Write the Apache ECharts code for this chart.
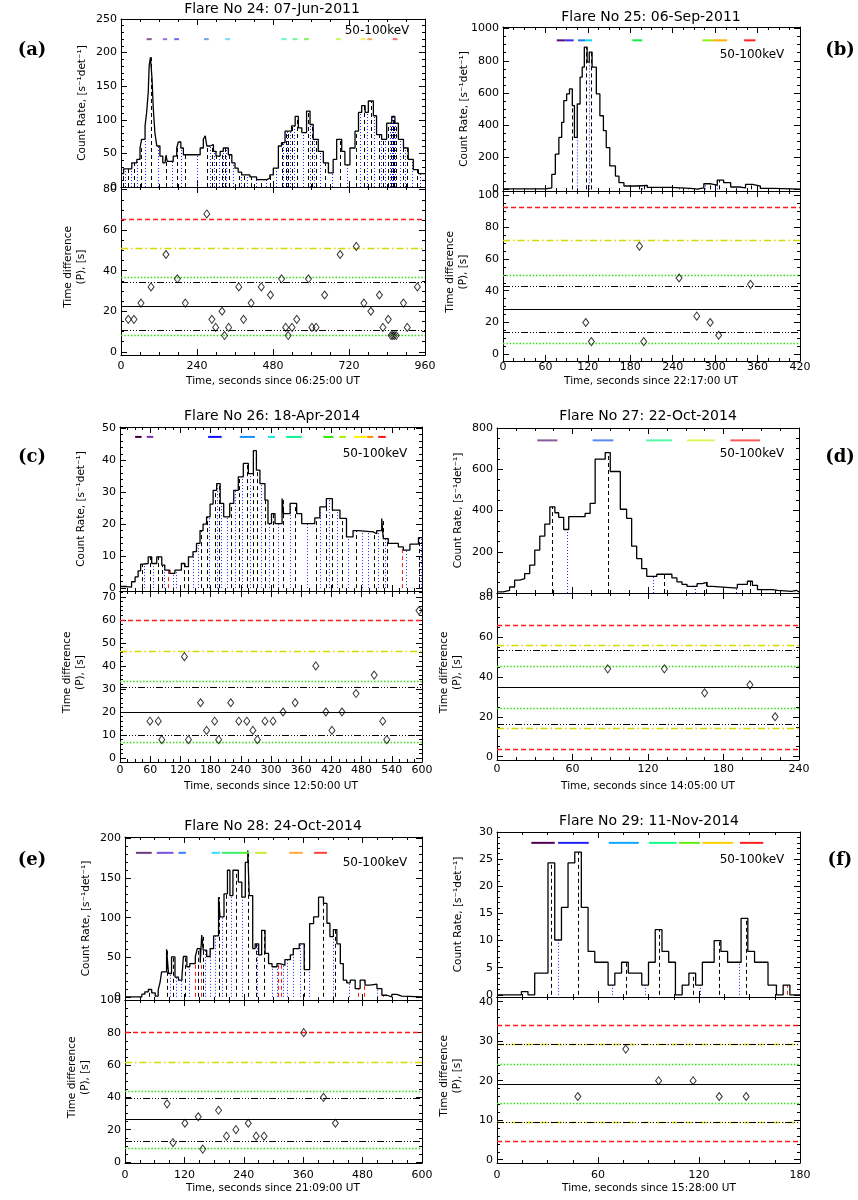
<!DOCTYPE html>
<html><head><meta charset="utf-8">
<script src="https://cdn.jsdelivr.net/npm/echarts@6/dist/echarts.min.js"></script>
<style>html,body{margin:0;padding:0;background:#fff}#c{width:858px;height:1200px}</style>
</head><body><div id="c"></div>
<script>
// ================= DATA =================
// ---- Flare 24 ----
const f24Title = 'Flare No 24: 07-Jun-2011';
const f24XTitle = 'Time, seconds since 06:25:00 UT';
const f24Edges = [0,8,34,50,60,65,76,81,86,89,93,98,102,107,113,123,132,139,142,146,165,176,181,189,197,250,260,266,271,281,292,300,313,323,339,350,360,370,381,407,428,460,470,481,497,507,518,539,550,560,571,586,597,607,623,639,655,670,681,697,707,723,739,750,760,771,781,797,807,823,839,855,865,876,892,907,923,939,960];
const f24Rates = [20,27,36,41,58,71,91,111,141,181,193,161,116,81,61,46,36,38,47,38,46,58,67,58,48,58,71,76,61,63,53,46,53,58,48,36,28,22,18,15,11,13,18,28,61,66,83,91,105,88,81,113,93,71,53,36,21,41,71,53,33,58,83,111,121,111,128,106,78,71,95,105,95,71,58,41,26,20];
const f24Peaks = [7,23,41,63,95,142,178,203,271,287,299,319,327,340,372,387,411,443,472,507,520,528,540,555,592,603,616,643,692,743,767,789,816,827,844,853,858,863,869,892,904,936];
const f24Troughs = [14,32,52,75,118,160,190,240,280,293,310,323,333,355,380,398,425,458,490,513,524,533,547,575,598,609,628,665,715,755,778,800,822,835,849,856,860,866,880,898,920,945];
const f24Reds = [];
const f24BarT0 = [81,132,168,262,329,507,542,578,679,757,778,858];
const f24BarT1 = [97,146,183,277,344,523,557,593,694,772,793,873];
const f24BarColors = ['#8a5a8e','#9a74d6','#6a6af8','#6aa2f8','#6adcf8','#6af8cc','#6af89a','#7cf85a','#c8f85a','#f8ec60','#f8aa5a','#f86a6a'];
const f24BarY = 220;
const f24DiffT = [23,41,63,95,142,178,203,271,287,299,319,327,340,372,387,411,443,472,507,520,528,540,555,592,603,616,643,692,743,767,789,816,827,844,853,858,863,869,892,904,936];
const f24DiffV = [16,16,24,32,48,36,24,68,16,12,20,8,12,32,16,24,32,28,36,12,8,12,16,36,12,12,28,48,52,24,20,28,12,16,8,8,8,8,24,12,32];
const f24Mean = 22.4, f24Sig1 = [8.1,36.7], f24Sig2 = [51], f24Sig3 = [65.3], f24Quart = [10.5,34.4];
const f24XTicks = [0,240,480,720,960];
const f24TopYTicks = [0,50,100,150,200,250];
const f24BotYTicks = [0,20,40,60,80];

// ---- Flare 25 ----
const f25Title = 'Flare No 25: 06-Sep-2011';
const f25XTitle = 'Time, seconds since 22:17:00 UT';
const f25Edges = [0,60,69,74,79,83,86,90,94,98,101,105,109,112,115,119,122,126,132,137,142,146,151,159,164,171,190,204,237,265,275,284,294,303,312,322,334,343,353,364,383,420];
const f25Rates = [3,10,94,219,323,417,552,594,625,521,323,531,698,760,885,792,854,760,594,458,365,260,146,83,42,21,25,12,6,2,10,35,27,58,42,15,10,31,21,6,2];
const f25Peaks = [97,117,125,193,199,249,274,293,305,350];
const f25Troughs = [105,121,196,262,285,302,330];
const f25Reds = [];
const f25BarT0 = [76,88,106,116,183,282,296,341];
const f25BarT1 = [88,100,116,126,197,296,317,357];
const f25BarColors = ['#5a0a7a','#3a2af0','#1a7af8','#10d8e8','#10f040','#90f010','#ffb000','#ff2020'];
const f25BarY = 927;
const f25DiffT = [117,125,193,199,249,274,293,305,350];
const f25DiffV = [20,8,68,8,48,24,20,12,44];
const f25Mean = 28.1, f25Sig1 = [7.1,49.7], f25Sig2 = [71.7], f25Sig3 = [92.7], f25Quart = [14,43];
const f25XTicks = [0,60,120,180,240,300,360,420];
const f25TopYTicks = [0,200,400,600,800,1000];
const f25BotYTicks = [0,20,40,60,80,100];

// ---- Flare 26 ----
const f26Title = 'Flare No 26: 18-Apr-2014';
const f26XTitle = 'Time, seconds since 12:50:00 UT';
const f26Edges = [0,13,23,30,36,41,46,56,63,73,83,89,99,109,122,129,136,145,152,159,165,172,179,185,192,199,206,218,226,235,245,255,265,271,278,288,294,301,308,322,325,338,351,361,387,397,410,422,437,450,463,473,503,510,520,523,533,553,563,576,593,600];
const f26Rates = [0.5,0.3,2,3.5,5.4,7.5,7.7,9.8,7.7,9.8,7.2,5.6,4.6,5.6,7.7,6.7,9.8,11.4,14,18,20,22.3,26.3,30.6,32.7,26.5,22.3,26.5,30.6,34.8,39,35.8,43,36.9,32.7,27.5,20.2,23.3,20.2,28,23.3,26.5,23.3,20.2,22,25.4,28,24.4,21.8,16,18,17.6,17,18,21.8,15.5,14,12.9,11.9,13.75,15.8];
const f26Peaks = [43,59.5,76,83,128,136,160,172,188,196,220,236,252,264,273,288,304,324,348,389,409,421,441,469,505,522,530,594];
const f26Troughs = [48,66,88,106,112,146,155,177,192,200,212,228,242,259,280,296,314,338,371,398,415,431,452,480,493,513,526,569,599];
const f26Reds = [96,560];
const f26BarT0 = [30,53,175,238,294,330,404,436,465,491,513];
const f26BarT1 = [43,66,202,268,308,361,424,449,490,503,528];
const f26BarColors = ['#3a003a','#7a30b0','#1010ff','#1090ff','#10e8e8','#10f090','#30e800','#a0f000','#ffee00','#ff9000','#ff1010'];
const f26BarY = 47.3;
const f26DiffT = [59.5,76,83,128,136,160,172,188,196,220,236,252,264,273,288,304,324,348,389,409,421,441,469,505,522,530,594];
const f26DiffV = [16,16,8,44,8,24,12,16,8,24,16,16,12,8,16,16,20,24,40,20,12,20,28,36,16,8,64];
const f26Mean = 20, f26Sig1 = [6.7,33.5], f26Sig2 = [46.5], f26Sig3 = [59.6], f26Quart = [9.8,30.6];
const f26XTicks = [0,60,120,180,240,300,360,420,480,540,600];
const f26TopYTicks = [0,10,20,30,40,50];
const f26BotYTicks = [0,10,20,30,40,50,60,70];

// ---- Flare 27 ----
const f27Title = 'Flare No 27: 22-Oct-2014';
const f27XTitle = 'Time, seconds since 14:05:00 UT';
const f27Edges = [0,5,10,14,18,22,26,30,34,38,42,46,49,53,57,70,74,78,86,90,98,103,107,111,115,119,127,139,143,147,151,159,163,167,171,191,199,203,207,219,223,234,238,240];
const f27Rates = [5,13,29,62,70,94,135,208,276,334,418,389,367,308,370,386,435,649,681,589,406,362,227,167,118,81,91,73,54,42,32,45,52,32,24,42,57,37,16,13,8,13,5];
const f27Peaks = [44,88,133,166,201,221];
const f27Troughs = [56,124,157,190];
const f27Reds = [];
const f27BarT0 = [32,76,118.5,151,185.5];
const f27BarT1 = [48,92.5,139,173,209];
const f27BarColors = ['#8a5a9a','#5a8af0','#5af8aa','#d8f85a','#f85a5a'];
const f27BarY = 740;
const f27DiffT = [88,133,165,201,221];
const f27DiffV = [44,44,32,36,20];
const f27Mean = 35, f27Sig1 = [24.3,45.3], f27Sig2 = [14.2,55.7], f27Sig3 = [3.7,65.8], f27Quart = [16.5,53.3];
const f27XTicks = [0,60,120,180,240];
const f27TopYTicks = [0,200,400,600,800];
const f27BotYTicks = [0,20,40,60,80];

// ---- Flare 28 ----
const f28Title = 'Flare No 28: 24-Oct-2014';
const f28XTitle = 'Time, seconds since 21:09:00 UT';
const f28Edges = [0,34,40,47,54,61,67,71,74,84,88,94,101,108,115,118,125,131,142,146,152,155,158,165,172,179,189,192,200,207,212,218,229,236,243,248,251,258,263,270,276,283,290,297,307,313,323,334,340,352,362,373,381,391,401,408,414,421,428,435,441,448,455,465,475,485,495,509,519,529,539,549,559,563,600];
const f28Rates = [0,3.4,6.3,9.3,5,1,8.4,19,31.6,60,29.5,50.5,25,21,25,51,38,42,50.5,61,43,78,59,51,61,77,126,101,130,160,128,160,145,126,170,185,128,61,67,53,84,55,42,38,42,40,47,53,61,67,34.5,92.6,101,126,118,93,76,85,67,42,21,17.7,21,10.5,21,14.7,16,10.5,2,0,3,1,3,0];
const f28Peaks = [49,85,97,121,148,157,189,205,224,249,265,281,361,401,425];
const f28Troughs = [91,104,113,130,162,172,182,196,214,237,266,297,307,319,327,339,354,371,420,452,509];
const f28Reds = [142,153,310,315,470,483,522];
const f28BarT0 = [22,64,108,175,195.5,232.5,263,332,382];
const f28BarT1 = [54,98,123,192,232.5,251,286,359,408];
const f28BarColors = ['#6a3a7a','#7a50e0','#3a80f8','#3ae0f8','#3aee70','#50ee30','#c8ee30','#ffaa40','#ff4040'];
const f28BarY = 182;
const f28DiffT = [85,97,121,148,157,189,205,224,249,265,281,361,401,425];
const f28DiffV = [36,12,24,28,8,32,16,20,24,16,16,80,40,24];
const f28Mean = 26.2, f28Sig1 = [8.4,44], f28Sig2 = [62], f28Sig3 = [80], f28Quart = [12.8,39.6];
const f28XTicks = [0,120,240,360,480,600];
const f28TopYTicks = [0,50,100,150,200];
const f28BotYTicks = [0,20,40,60,80,100];

// ---- Flare 29 ----
const f29Title = 'Flare No 29: 11-Nov-2014';
const f29XTitle = 'Time, seconds since 15:28:00 UT';
const f29Edges = [0,14.5,18.4,22.4,30.3,34.3,38.3,42.2,46.2,50.1,54.1,58.1,66,70,74,78,86,90,94,98,102,106,110,114,118,122,129,133,137,145,149,153,161,166,170,174,180];
const f29Rates = [0,0.6,0,4,24.3,10.1,16.1,24.3,26.3,16.1,8,6,1.8,4,6,4,1.8,6,12,8,6,0,1.8,4,1.8,6,10,8,6,14.1,8,6,1.8,0,1.8,0];
const f29Peaks = [32,48,76.5,96,116.5,132,148];
const f29Troughs = [36,68.5,88,120.5,144];
const f29Reds = [172];
const f29BarT0 = [20.4,36.3,66.4,90.2,108.2,122,144.3];
const f29BarT1 = [34.3,54.5,84.2,106.6,120.5,140.3,158.2];
const f29BarColors = ['#500050','#2020ff','#10a8ff','#10ff88','#60ee10','#ffd000','#ff2020'];
const f29BarY = 28;
const f29DiffT = [48,76.5,96,116.5,132,148];
const f29DiffV = [16,28,20,20,16,16];
const f29Mean = 19.2, f29Sig1 = [14.3,24.2], f29Sig2 = [9.4,29.3], f29Sig3 = [4.6,34.1], f29Quart = [9.4,29.3];
const f29XTicks = [0,60,120,180];
const f29TopYTicks = [0,5,10,15,20,25,30];
const f29BotYTicks = [0,10,20,30,40];

const energyLabel = '50-100keV';
const yTitleTop = 'Count Rate, [s\u207B\u00B9det\u207B\u00B9]';
const yTitleBot = 'Time difference\n(P), [s]';

// ================= LAYOUT =================
const FONT = '"DejaVu Sans"';
const panels = [
  {letter:'(a)', title:f24Title, xTitle:f24XTitle, edges:f24Edges, rates:f24Rates, peaks:f24Peaks, troughs:f24Troughs, reds:f24Reds,
   barT0:f24BarT0, barT1:f24BarT1, barColors:f24BarColors, barY:f24BarY, diffT:f24DiffT, diffV:f24DiffV,
   mean:f24Mean, sig1:f24Sig1, sig2:f24Sig2, sig3:f24Sig3, quart:f24Quart, xTicks:f24XTicks, topTicks:f24TopYTicks, botTicks:f24BotYTicks,
   L:{left:121,width:304,top:19,mid:187,bottom:355,yTop:[0,250],yBot:[-1.6,81.3],xMinor:60,topMinor:10,botMinor:5,labM:6,
      titleXY:[272,9],kevXY:[377,31],letterXY:[32,50],xTitleXY:[273,381]}},
  {letter:'(b)', title:f25Title, xTitle:f25XTitle, edges:f25Edges, rates:f25Rates, peaks:f25Peaks, troughs:f25Troughs, reds:f25Reds,
   barT0:f25BarT0, barT1:f25BarT1, barColors:f25BarColors, barY:f25BarY, diffT:f25DiffT, diffV:f25DiffV,
   mean:f25Mean, sig1:f25Sig1, sig2:f25Sig2, sig3:f25Sig3, quart:f25Quart, xTicks:f25XTicks, topTicks:f25TopYTicks, botTicks:f25BotYTicks,
   L:{left:503,width:297,top:27,mid:191,bottom:361,yTop:[-10,1010],yBot:[-4.2,102.7],xMinor:15,topMinor:50,botMinor:5,labM:1,
      titleXY:[651,17],kevXY:[752,55],letterXY:[840,50],xTitleXY:[651,381]}},
  {letter:'(c)', title:f26Title, xTitle:f26XTitle, edges:f26Edges, rates:f26Rates, peaks:f26Peaks, troughs:f26Troughs, reds:f26Reds,
   barT0:f26BarT0, barT1:f26BarT1, barColors:f26BarColors, barY:f26BarY, diffT:f26DiffT, diffV:f26DiffV,
   mean:f26Mean, sig1:f26Sig1, sig2:f26Sig2, sig3:f26Sig3, quart:f26Quart, xTicks:f26XTicks, topTicks:f26TopYTicks, botTicks:f26BotYTicks,
   L:{left:120,width:302,top:427,mid:591,bottom:762,yTop:[-0.9,50.4],yBot:[-1.7,72.5],xMinor:15,topMinor:2,botMinor:2,labM:3,
      titleXY:[272,416],kevXY:[375,454],letterXY:[32,457],xTitleXY:[271,786]}},
  {letter:'(d)', title:f27Title, xTitle:f27XTitle, edges:f27Edges, rates:f27Rates, peaks:f27Peaks, troughs:f27Troughs, reds:f27Reds,
   barT0:f27BarT0, barT1:f27BarT1, barColors:f27BarColors, barY:f27BarY, diffT:f27DiffT, diffV:f27DiffV,
   mean:f27Mean, sig1:f27Sig1, sig2:f27Sig2, sig3:f27Sig3, quart:f27Quart, xTicks:f27XTicks, topTicks:f27TopYTicks, botTicks:f27BotYTicks,
   L:{left:497,width:302,top:428,mid:593,bottom:760,yTop:[0,800],yBot:[-1.65,82],xMinor:15,topMinor:50,botMinor:5,labM:4,
      titleXY:[648,416],kevXY:[752,454],letterXY:[840,457],xTitleXY:[648,786]}},
  {letter:'(e)', title:f28Title, xTitle:f28XTitle, edges:f28Edges, rates:f28Rates, peaks:f28Peaks, troughs:f28Troughs, reds:f28Reds,
   barT0:f28BarT0, barT1:f28BarT1, barColors:f28BarColors, barY:f28BarY, diffT:f28DiffT, diffV:f28DiffV,
   mean:f28Mean, sig1:f28Sig1, sig2:f28Sig2, sig3:f28Sig3, quart:f28Quart, xTicks:f28XTicks, topTicks:f28TopYTicks, botTicks:f28BotYTicks,
   L:{left:125,width:297,top:837,mid:1000,bottom:1163,yTop:[-4,202],yBot:[-0.6,100.2],xMinor:30,topMinor:10,botMinor:5,labM:7,
      titleXY:[273,826],kevXY:[375,863],letterXY:[32,860],xTitleXY:[273,1188]}},
  {letter:'(f)', title:f29Title, xTitle:f29XTitle, edges:f29Edges, rates:f29Rates, peaks:f29Peaks, troughs:f29Troughs, reds:f29Reds,
   barT0:f29BarT0, barT1:f29BarT1, barColors:f29BarColors, barY:f29BarY, diffT:f29DiffT, diffV:f29DiffV,
   mean:f29Mean, sig1:f29Sig1, sig2:f29Sig2, sig3:f29Sig3, quart:f29Quart, xTicks:f29XTicks, topTicks:f29TopYTicks, botTicks:f29BotYTicks,
   L:{left:497,width:303,top:832,mid:997,bottom:1163,yTop:[-0.4,30],yBot:[-0.84,41.2],xMinor:15,topMinor:1,botMinor:2,labM:7,
      titleXY:[649,821],kevXY:[752,860],letterXY:[840,860],xTitleXY:[649,1188]}}
];

const LSTYLE = {
  sig3:{color:'#ff1a1a', type:[5,3], width:1.4},
  sig2:{color:'#d8d800', type:[7,3,1.5,3], width:1.4},
  sig1:{color:'#33dd11', type:[1.5,1.8], width:1.4},
  quart:{color:'#000000', type:[7,2,1,2,1,2,1,2], width:1},
  mean:{color:'#000000', type:'solid', width:1}
};

const option = {animation:false, backgroundColor:'#fff', grid:[], xAxis:[], yAxis:[], series:[], graphic:[]};

function minorList(min, max, step){
  const out = [];
  const start = Math.ceil(min/step - 1e-9);
  for (let k = start; k*step <= max + 1e-9; k++) out.push(+(k*step).toFixed(6));
  return out;
}

function addGrid(g, xr, yr, xMaj, xMinStep, yMaj, yMinStep, showXLab, labM){
  option.grid.push({left:g.left, top:g.top, width:g.width, height:g.height});
  const gi = option.grid.length - 1;
  const xi = option.xAxis.length, yi = option.yAxis.length;
  const xMin = minorList(xr[0], xr[1], xMinStep), yMin = minorList(yr[0], yr[1], yMinStep);
  const tickLS = {color:'#000', width:1};
  const lab = {fontFamily:'DejaVu Sans', fontSize:11, color:'#000', formatter:function(v){ return String(v); }};
  const mk = (pos, line, len, vals, labShow, isX) => {
    const ax = {gridIndex:gi, type:'value', min:isX?xr[0]:yr[0], max:isX?xr[1]:yr[1], position:pos,
      splitLine:{show:false},
      axisLine:{show:line, onZero:false, lineStyle:{color:'#000', width:1}},
      axisTick:{show:true, inside:true, length:len, customValues:vals, lineStyle:tickLS},
      axisLabel:labShow ? Object.assign({show:true, customValues:vals, margin:isX?labM:4}, lab) : {show:false}};
    return ax;
  };
  option.xAxis.push(mk('bottom', true, 6, xMaj, showXLab, true));
  option.xAxis.push(mk('bottom', false, 3, xMin, false, true));
  option.xAxis.push(mk('top', true, 6, xMaj, false, true));
  option.xAxis.push(mk('top', false, 3, xMin, false, true));
  option.yAxis.push(mk('left', true, 6, yMaj, true, false));
  option.yAxis.push(mk('left', false, 3, yMin, false, false));
  option.yAxis.push(mk('right', true, 6, yMaj, false, false));
  option.yAxis.push(mk('right', false, 3, yMin, false, false));
  return {xi, yi};
}

function rateAt(edges, rates, t){
  for (let i = 0; i < rates.length; i++) if (t >= edges[i] && t < edges[i+1]) return rates[i];
  return rates[rates.length-1];
}

function vlines(ax, times, p, color, dash, z){
  return {type:'custom', xAxisIndex:ax.xi, yAxisIndex:ax.yi, silent:true, z:z, clip:true,
    data: times.map(t => [t, rateAt(p.edges, p.rates, t)]),
    renderItem: function(params, api){
      const a = api.coord([api.value(0), 0]);
      const b = api.coord([api.value(0), api.value(1)]);
      const x = Math.round(a[0]) + 0.5;
      return {type:'line', shape:{x1:x, y1:a[1], x2:x, y2:b[1]}, style:{stroke:color, lineWidth:1, lineDash:dash}};
    }};
}

function textEl(x, y, text, font, opts){
  return Object.assign({type:'text', x:x, y:y, silent:true,
    style:{text:text, font:font, fill:'#000', textAlign:'center', align:'center', textVerticalAlign:'middle', verticalAlign:'middle', lineHeight:13}}, opts||{});
}

panels.forEach(p => {
  const L = p.L;
  const xr = [p.xTicks[0], p.xTicks[p.xTicks.length-1]];
  const top = addGrid({left:L.left, top:L.top, width:L.width, height:L.mid-L.top}, xr, L.yTop, p.xTicks, L.xMinor, p.topTicks, L.topMinor, false, L.labM);
  const bot = addGrid({left:L.left, top:L.mid, width:L.width, height:L.bottom-L.mid}, xr, L.yBot, p.xTicks, L.xMinor, p.botTicks, L.botMinor, true, L.labM);

  // vertical marker lines under the histogram
  option.series.push(vlines(top, p.troughs, p, '#2626ff', [1,2], 2));
  option.series.push(vlines(top, p.reds, p, '#ff1a1a', [4,3], 2));
  option.series.push(vlines(top, p.peaks, p, '#000000', [4,3], 3));

  // histogram
  const hist = p.rates.map((r,i) => [p.edges[i], r]);
  hist.push([p.edges[p.edges.length-1], p.rates[p.rates.length-1]]);
  option.series.push({type:'line', xAxisIndex:top.xi, yAxisIndex:top.yi, data:hist, step:'end', symbol:'none', silent:true, z:4,
    lineStyle:{color:'#000', width:1.3}});

  // colored period bars
  const bars = p.barT0.map((t0,i) => [t0, p.barT1[i], p.barY, i]);
  const cols = p.barColors;
  option.series.push({type:'custom', xAxisIndex:top.xi, yAxisIndex:top.yi, silent:true, z:5, data:bars,
    encode:{x:[0,1], y:2},
    renderItem: function(params, api){
      const a = api.coord([api.value(0), api.value(2)]);
      const b = api.coord([api.value(1), api.value(2)]);
      return {type:'line', shape:{x1:a[0], y1:a[1], x2:b[0], y2:b[1]}, style:{stroke:cols[api.value(3)], lineWidth:2}};
    }});

  // time differences with reference levels
  const ml = [];
  const addL = (vals, st) => vals.forEach(v => ml.push({yAxis:v, lineStyle:{color:st.color, type:st.type, width:st.width}}));
  addL(p.sig3, LSTYLE.sig3);
  addL(p.sig2, LSTYLE.sig2);
  addL(p.sig1, LSTYLE.sig1);
  addL(p.quart, LSTYLE.quart);
  addL([p.mean], LSTYLE.mean);
  option.series.push({type:'scatter', xAxisIndex:bot.xi, yAxisIndex:bot.yi, silent:true, z:5,
    data:p.diffT.map((t,i) => [t, p.diffV[i]]), symbol:'diamond', symbolSize:[6,8],
    itemStyle:{color:'rgba(0,0,0,0)', borderColor:'#000', borderWidth:1},
    markLine:{silent:true, symbol:['none','none'], label:{show:false}, animation:false, data:ml}});

  // texts
  option.graphic.push(textEl(L.titleXY[0], L.titleXY[1], p.title, '14px ' + FONT));
  option.graphic.push(textEl(L.kevXY[0], L.kevXY[1], energyLabel, '12px ' + FONT));
  option.graphic.push(textEl(L.letterXY[0], L.letterXY[1], p.letter, 'bold 18px "DejaVu Serif"'));
  option.graphic.push(textEl(L.xTitleXY[0], L.xTitleXY[1], p.xTitle, '10.5px ' + FONT));
  option.graphic.push(textEl(L.left - 39, (L.top + L.mid)/2, yTitleTop, '10.5px ' + FONT, {rotation:Math.PI/2}));
  option.graphic.push(textEl(L.left - 46, (L.mid + L.bottom)/2 - 4, yTitleBot, '10.5px ' + FONT, {rotation:Math.PI/2}));
});

const chart = echarts.init(document.getElementById('c'), null, {renderer:'canvas'});
chart.setOption(option);
</script></body></html>
